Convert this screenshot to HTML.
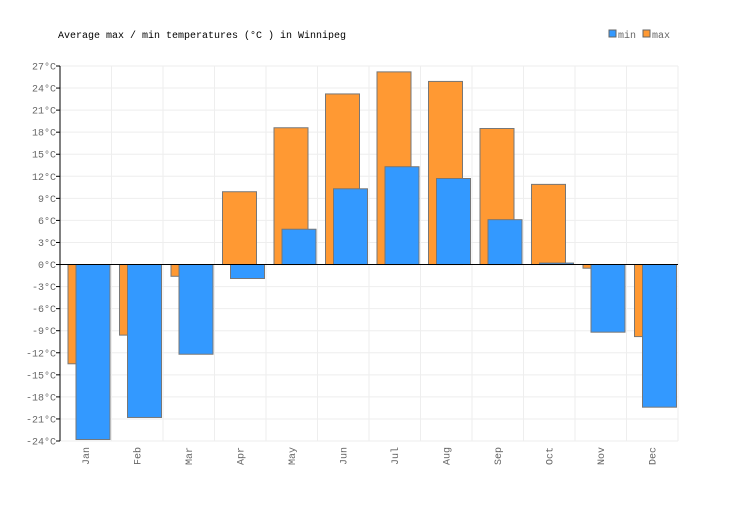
<!DOCTYPE html>
<html><head><meta charset="utf-8"><style>
body{margin:0;background:#fff;}
svg text{font-family:"Liberation Mono","DejaVu Sans Mono",monospace;}
</style></head><body>
<svg id="chart" width="736" height="500" xmlns="http://www.w3.org/2000/svg">
<text x="58" y="38" font-size="10" fill="#000">Average max / min temperatures (°C ) in Winnipeg</text>
<g>
<rect x="609" y="30" width="7" height="7" fill="#3399ff" stroke="#666"/>
<text x="618" y="38" font-size="10" fill="#666">min</text>
<rect x="643" y="30" width="7" height="7" fill="#ff9933" stroke="#666"/>
<text x="652" y="38" font-size="10" fill="#666">max</text>
</g>
<g id="grid"></g>
<g id="bars"></g>
<g id="axes"></g>
</svg>
<script>
const months=["Jan","Feb","Mar","Apr","May","Jun","Jul","Aug","Sep","Oct","Nov","Dec"];
const maxTemps=[-13.5,-9.6,-1.6,9.9,18.6,23.2,26.2,24.9,18.5,10.9,-0.5,-9.8];
const minTemps=[-23.8,-20.8,-12.2,-1.9,4.8,10.3,13.3,11.7,6.1,0.2,-9.2,-19.4];
const yTicks=[27,24,21,18,15,12,9,6,3,0,-3,-6,-9,-12,-15,-18,-21,-24];
const NS="http://www.w3.org/2000/svg";
const L=60,R=678,T=66,B=441,yMax=27,yMin=-24;
const cw=(R-L)/months.length;
function y(v){return T+(yMax-v)/(yMax-yMin)*(B-T);}
function x(i){return L+i*cw;}
function mk(tag,attrs,parent){const e=document.createElementNS(NS,tag);for(const k in attrs)e.setAttribute(k,attrs[k]);parent.appendChild(e);return e;}
const grid=document.getElementById('grid'),bars=document.getElementById('bars'),axes=document.getElementById('axes');
yTicks.forEach(t=>{
  const g=mk('line',{x1:L,x2:R,y1:y(t),y2:y(t),stroke:'#eeeeee'},grid);
  
  
  const tl=mk('line',{x1:L-4,x2:L,y1:y(t),y2:y(t),stroke:'#000'},axes);
  
  
  const tx=mk('text',{x:L-4,y:y(t)+3.5,'font-size':10,fill:'#666','text-anchor':'end'},axes);
  tx.textContent=t+'°C';
  
  
});
for(let i=0;i<=months.length;i++){
  const g=mk('line',{x1:x(i),x2:x(i),y1:T,y2:B,stroke:'#eeeeee'},grid);
  
  
}
months.forEach((m,i)=>{
  const mx=maxTemps[i],mn=minTemps[i];
  const b1=mk('rect',{x:x(i)+8,y:Math.min(y(mx),y(0)),width:34,height:Math.abs(y(mx)-y(0)),fill:'#ff9933',stroke:'#777'},bars);
  
  
  const b2=mk('rect',{x:x(i)+16,y:Math.min(y(mn),y(0)),width:34,height:Math.abs(y(mn)-y(0)),fill:'#3399ff',stroke:'#777'},bars);
  
  
  const cx=x(i)+cw/2+3;
  const tx=mk('text',{x:cx,y:B+6,'font-size':10,fill:'#666','text-anchor':'end',transform:`rotate(-90 ${cx} ${B+6})`},axes);
  tx.textContent=m;
  
  
});
const ya=mk('line',{x1:L,x2:L,y1:T,y2:B,stroke:'#000'},axes);


const zl=mk('line',{x1:L,x2:R,y1:y(0),y2:y(0),stroke:'#000'},axes);


</script>
</body></html>
